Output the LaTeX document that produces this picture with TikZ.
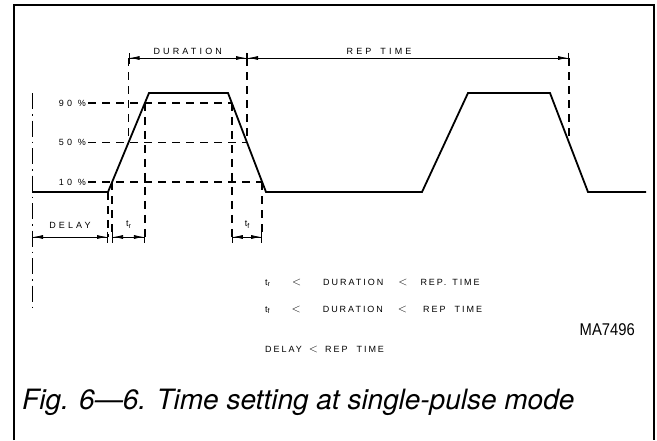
\documentclass[tikz,border=0pt]{standalone}
\usepackage{fontspec}
\usepackage{graphicx}
\setmainfont{Liberation Sans}
\newfontfamily\dimfont[LetterSpace=35]{Liberation Sans}
\newfontfamily\rulefont[LetterSpace=22]{Liberation Sans}
\newfontfamily\capfont[Ligatures=TeX]{TeX Gyre Heros}
\newcommand\sub[1]{\raisebox{-1.8pt}{\fontsize{7}{7}\selectfont #1}}
\newcommand\lt{{\fontsize{13}{13}\selectfont$<$}}
\usetikzlibrary{arrows.meta,calc}

\begin{document}
\begin{tikzpicture}[
  x=1pt, y=-1pt,
  frame/.style={line width=2.2pt},
  wave/.style={line width=1.8pt, line join=miter},
  guide/.style={line width=1.7pt, dash pattern=on 8pt off 6pt},
  axisline/.style={line width=1pt, dash pattern=on 16pt off 5pt on 1.5pt off 5pt},
  dim/.style={line width=0.8pt,
              {Bar[width=11pt,line width=1pt]Latex[length=10pt,width=4pt]}-{Latex[length=10pt,width=4pt]Bar[width=11pt,line width=1pt]}},
  dimlbl/.style={font=\dimfont\fontsize{9}{10}\selectfont, inner sep=3pt},
  lvl/.style={font=\dimfont\fontsize{9}{10}\selectfont, anchor=east, inner sep=2pt},
  rule/.style={font=\rulefont\fontsize{9}{10}\selectfont, anchor=base west, inner sep=0pt},
]
\useasboundingbox (0,0) rectangle (657,440);

% --- Frame (open at the bottom) ---
\draw[frame] (14,440) -- (14,5) -- (654,5) -- (654,440);

% --- Pulse train ---
\coordinate (s0) at (32,192);
\coordinate (r0) at (108,192);
\coordinate (r1) at (149,93);
\coordinate (f0) at (228,93);
\coordinate (f1) at (266,192);
\coordinate (r2) at (422,192);
\coordinate (r3) at (468,93);
\coordinate (f2) at (550,93);
\coordinate (f3) at (588,192);
\coordinate (s1) at (646,192);
\draw[wave] (s0) -- (r0) -- (r1) -- (f0) -- (f1) -- (r2) -- (r3) -- (f2) -- (f3) -- (s1);

% level crossings on the edges
\foreach \p in {10,50,90} {
  \coordinate (a\p) at ($(r0)!\p/100!(r1)$);
  \coordinate (b\p) at ($(f0)!1-\p/100!(f1)$);
}
\coordinate (c50) at ($(f2)!0.5!(f3)$);

% reference lines for the dimensions
\coordinate (dt) at (0,58);
\coordinate (dl) at (0,237);
\coordinate (lx) at (88,0);

% --- Time axis ---
\coordinate (ax0) at (s0 |- r1);
\coordinate (ax1) at (32,310);
\draw[axisline] (ax0) -- (ax1);

% --- Level guides ---
\node[lvl] (p90) at (a90 -| lx) {90 \%};
\node[lvl] (p50) at (a50 -| lx) {50 \%};
\node[lvl] (p10) at (a10 -| lx) {10 \%};
\draw[guide] (p90) -- (b90);
\draw[guide] (p50) -- (b50);
\draw[guide] (p10) -- (b10);

% --- Vertical guides ---
\draw[guide] (r0) -- (r0 |- dl);
\foreach \q in {a10,a90,b90,b10} {
  \draw[guide] (\q) -- (\q |- dl);
}
\foreach \q in {a50,b50,c50} {
  \draw[guide] (\q |- dt) -- (\q);
}

% --- Dimensions ---
\draw[dim] (a50 |- dt) -- node[dimlbl, above] (dur) {DURATION} (b50 |- dt);
\draw[dim] (b50 |- dt) -- node[dimlbl, above, pos=0.41] (rep) {REP\hspace{9pt}TIME} (c50 |- dt);
\draw[dim] (s0 |- dl) -- node[dimlbl, above=5pt] (delay) {DELAY} (r0 |- dl);
\draw[dim] (a10 |- dl) -- node[dimlbl, above=5pt] (tr) {t\sub{r}} (a90 |- dl);
\draw[dim] (b90 |- dl) -- node[dimlbl, above=5pt] (tf) {t\sub{f}} (b10 |- dl);

% --- Conditions ---
\node[rule] (rule1) at (265,285) {t\sub{r}\hspace{22pt}\lt\hspace{22pt}DURATION\hspace{15pt}\lt\hspace{13pt}REP.\hspace{6pt}TIME};
\node[rule] (rule2) at (265,312) {t\sub{f}\hspace{22pt}\lt\hspace{22pt}DURATION\hspace{15pt}\lt\hspace{16pt}REP\hspace{9pt}TIME};
\node[rule] (rule3) at (265,352) {DELAY\hspace{7pt}\lt\hspace{7pt}REP\hspace{9pt}TIME};

\node[anchor=base east, inner sep=0pt] (code) at (635,335) {\scalebox{0.87}[1]{\fontsize{17}{17}\selectfont MA7496}};

% --- Caption ---
\node[anchor=base west, inner sep=0pt] (cap) at (22,409)
  {\capfont\itshape\fontsize{28}{30}\selectfont Fig. 6—6. Time setting at single-pulse mode};

\end{tikzpicture}
\end{document}
